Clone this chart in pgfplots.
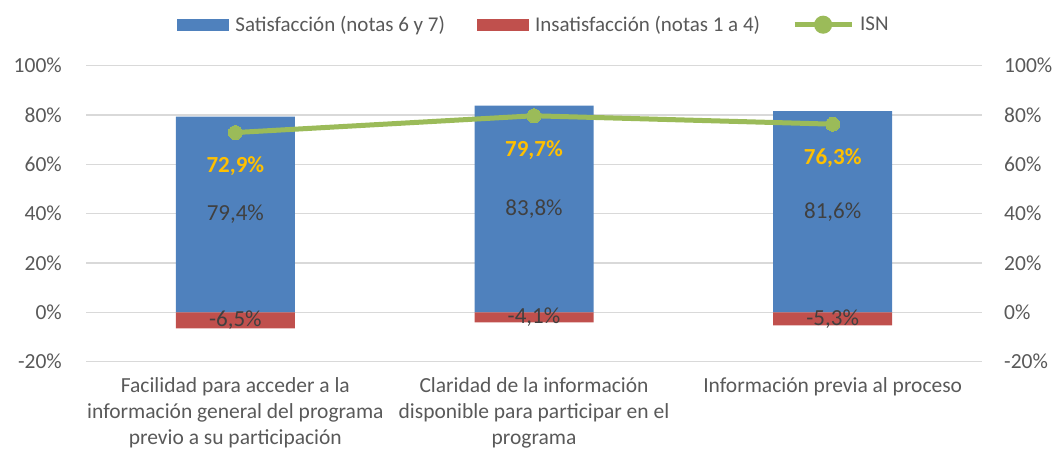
\documentclass[border=0pt]{standalone}
\usepackage{pgfplots}
\pgfplotsset{compat=1.18}
\usepackage{fontspec}
\setmainfont{Carlito}
\definecolor{satblue}{HTML}{4F81BD}
\definecolor{insred}{HTML}{C0504D}
\definecolor{isngreen}{HTML}{9BBB59}
\definecolor{isngold}{HTML}{FFC000}
\definecolor{labgray}{HTML}{404040}
\definecolor{tickgray}{HTML}{595959}
\definecolor{gridgray}{HTML}{D9D9D9}
\newcommand{\chartfont}{\fontsize{21.5}{26}\selectfont}
\newcommand{\legfont}{\fontsize{21}{26}\selectfont}
\newcommand{\labfont}{\fontsize{23}{27}\selectfont}
\begin{document}
\begin{tikzpicture}
\path[use as bounding box] (0pt,0pt) rectangle (1059pt,451pt);
\begin{axis}[
  at={(86pt,89.3pt)}, anchor=south west,
  scale only axis, width=896pt, height=296pt,
  xmin=-0.5, xmax=2.5, ymin=-20, ymax=100,
  clip=false,
  axis line style={draw=none},
  tick style={draw=none},
  ymajorgrids, grid style={gridgray, line width=1.2pt},
  ytick={-20,0,20,40,60,80,100},
  yticklabels={-20\%,0\%,20\%,40\%,60\%,80\%,100\%},
  yticklabel style={inner sep=0pt, xshift=-24pt},
  xtick={0,1,2},
  xticklabels={{Facilidad para acceder a la\\información general del programa\\previo a su participación},
               {Claridad de la información\\disponible para participar en el\\programa},
               {Información previa al proceso}},
  xticklabel style={align=center, anchor=north, inner sep=0pt, yshift=-16pt},
  every tick label/.append style={font=\chartfont, text=tickgray},
  legend style={at={(0.5,1)}, anchor=center, yshift=41pt, draw=none, fill=none,
    font=\legfont, text=tickgray,
    /tikz/every odd column/.append style={column sep=4pt},
    /tikz/every even column/.append style={column sep=30pt}},
  legend columns=3,
  legend cell align=left,
]
% Satisfaccion (notas 6 y 7)
\addplot[ybar, bar width=119pt, bar shift=0pt, fill=satblue, draw=none,
  legend image code/.code={\fill[satblue] (0pt,-6.2pt) rectangle (52pt,6.2pt);}]
  coordinates {(0,79.4) (1,83.8) (2,81.6)};
\addlegendentry{Satisfacción (notas 6 y 7)}
% Insatisfaccion (notas 1 a 4)
\addplot[ybar, bar width=119pt, bar shift=0pt, fill=insred, draw=none,
  legend image code/.code={\fill[insred] (0pt,-6.2pt) rectangle (52pt,6.2pt);}]
  coordinates {(0,-6.5) (1,-4.1) (2,-5.3)};
\addlegendentry{Insatisfacción (notas 1 a 4)}
% ISN
\addplot[isngreen, line width=5pt, mark=*, mark size=7pt,
  mark options={fill=isngreen, draw=isngreen, line width=0pt},
  nodes near coords, point meta=explicit symbolic,
  every node near coord/.append style={anchor=center, yshift=-34pt,
    font=\labfont\bfseries, text=isngold},
  legend image code/.code={\draw[isngreen, line width=5pt] (0pt,0pt) -- (57pt,0pt);
    \fill[isngreen] (28.5pt,0pt) circle (6.5pt);}]
  coordinates {(0,72.9)[72,9\%] (1,79.7)[79,7\%] (2,76.3)[76,3\%]};
\addlegendentry{ISN}
% labels in the middle of the bars
\addplot[draw=none, mark=none, forget plot,
  nodes near coords, point meta=explicit symbolic,
  every node near coord/.append style={anchor=center, font=\labfont, text=labgray}]
  coordinates {(0,39.7)[79,4\%] (1,41.9)[83,8\%] (2,40.8)[81,6\%]};
\addplot[draw=none, mark=none, forget plot,
  nodes near coords, point meta=explicit symbolic,
  every node near coord/.append style={anchor=center, font=\labfont, text=labgray}]
  coordinates {(0,-3.25)[-6,5\%] (1,-2.05)[-4,1\%] (2,-2.65)[-5,3\%]};
\end{axis}
% right axis
\begin{axis}[
  at={(86pt,89.3pt)}, anchor=south west,
  scale only axis, width=896pt, height=296pt,
  xmin=-0.5, xmax=2.5, ymin=-20, ymax=100,
  hide x axis, axis y line*=right,
  axis line style={draw=none},
  tick style={draw=none},
  ytick={-20,0,20,40,60,80,100},
  yticklabels={-20\%,0\%,20\%,40\%,60\%,80\%,100\%},
  yticklabel style={inner sep=0pt, xshift=22pt, font=\chartfont, text=tickgray},
]
\addplot[draw=none, mark=none] coordinates {(0,0) (2,0)};
\end{axis}
\end{tikzpicture}
\end{document}
